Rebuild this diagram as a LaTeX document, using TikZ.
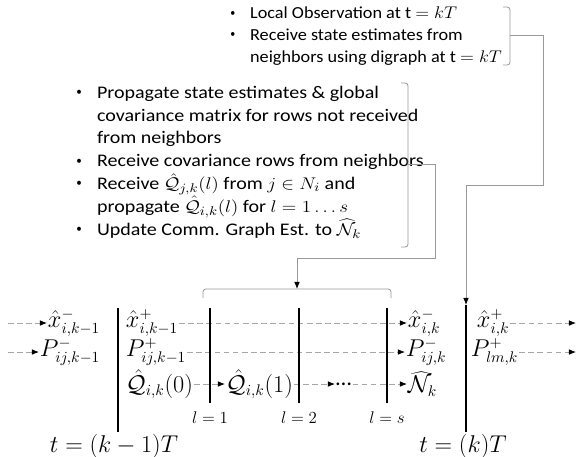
\documentclass[tikz,border=0pt]{standalone}
\usepackage{graphicx}
\usepackage{fontspec}
\setmainfont{Carlito}
\usetikzlibrary{positioning,arrows.meta}
\newlength{\bulletw}
\setlength{\bulletw}{4.6mm}
\newcommand{\bitem}{\makebox[\bulletw][l]{\raisebox{.3ex}{\scalebox{.55}[.65]{\textbullet}}}}
\newcommand{\bgap}{\hspace*{\bulletw}}
% the notes of the reference are set wide
\newcommand{\widenotes}[2][1.13]{\scalebox{#1}[1]{\begin{tabular}{@{}l@{}}#2\end{tabular}}}
\tikzset{%
  sample bar/.style={
    draw=black,
    line width=1.8pt
  },
  flow/.style={
    draw=gray!70,
    line width=0.6pt,
    dash pattern=on 4pt off 2.5pt
  },
  bracket/.style={
    draw=gray!80,
    line width=0.6pt,
    rounded corners=2pt
  },
  link/.style={
    draw=gray!80,
    line width=0.6pt
  },
}

\begin{document}
\begin{tikzpicture}[x=0.025cm,y=-0.025cm,>={Latex[black,length=5pt,width=4pt]},font=\fontsize{16}{18}\selectfont]
        \tikzstyle{est}=[inner sep=0.5pt,anchor=west]
        \tikzstyle{notes}=[inner sep=0pt,anchor=north west,font=\fontsize{12}{15.5}\selectfont]
        \tikzstyle{lvl}=[font=\fontsize{13}{15}\selectfont]

        \useasboundingbox (0,0) rectangle (578,456);

        % what happens between the two sample times
        \node[notes] (obs) at (230,3) {\widenotes[1.08]{\bitem Local Observation at t $= kT$\\
          \bitem Receive state estimates from\\
          \bgap neighbors using digraph at t $= kT$}};
        \node[notes,font=\fontsize{12.6}{16.2}\selectfont] (prop) at (76,82) {\widenotes{\bitem Propagate state estimates \& global\\
          \bgap covariance matrix for rows not received\\
          \bgap from neighbors\\
          \bitem Receive covariance rows from neighbors\\
          \bitem Receive $\hat{\mathcal{Q}}_{j,k}(l)$ from $j \in N_i$ and\\
          \bgap propagate $\hat{\mathcal{Q}}_{i,k}(l)$ for $l = 1 \ldots s$\\
          \bitem Update Comm. Graph Est. to $\widehat{\mathcal{N}}_k$}};

        \coordinate (obs br) at (510,35);
        \coordinate (prop br) at (408,164);
        \coordinate (win top) at (297,289);
        \coordinate (tk top) at (466,305);

        \draw[bracket] (503,7) -| (510,65) -- (503,65);
        \draw[bracket] (401,83) -| (408,247) -- (401,247);
        \draw[bracket] (203,298) |- (win top) -| (391,298);

        \draw[link,->] (obs br) -| (543,185) -| (tk top);
        \draw[link,->] (prop br) -| (435,258) -| (win top);

        % estimates
        \node[est] (xm1) at (47,323) {$\hat{x}^{-}_{i,k-1}$};
        \node[est] (Pm1) at (39,352) {$P^{-}_{ij,k-1}$};
        \node[est] (xp1) at (125,323) {$\hat{x}^{+}_{i,k-1}$};
        \node[est] (Pp1) at (125,352) {$P^{+}_{ij,k-1}$};
        \node[est] (Q0) at (125,384) {$\hat{\mathcal{Q}}_{i,k}(0)$};
        \node[est] (Q1) at (225,384) {$\hat{\mathcal{Q}}_{i,k}(1)$};
        \node[est] (dots) at (335,384) {\ldots};
        \node[est] (Nk) at (407,384) {$\widehat{\mathcal{N}}_k$};
        \node[est] (xmk) at (407,323) {$\hat{x}^{-}_{i,k}$};
        \node[est] (Pmk) at (405,352) {$P^{-}_{ij,k}$};
        \node[est] (xpk) at (476,323) {$\hat{x}^{+}_{i,k}$};
        \node[est] (Ppk) at (470,352) {$P^{+}_{lm,k}$};

        \coordinate (in x) at (8,323);
        \coordinate (in P) at (8,352);
        \coordinate (out x) at (576,323);
        \coordinate (out P) at (576,352);

        \draw[flow,->] (in x) -- (xm1);
        \draw[flow,->] (in P) -- (Pm1);
        \draw[flow,->] (xp1) -- (xmk);
        \draw[flow,->] (Pp1) -- (Pmk);
        \draw[flow,->] (Q0) -- (Q1);
        \draw[flow,->] (Q1) -- (dots);
        \draw[flow,->] (dots) -- (Nk);
        \draw[flow,->] (xpk) -- (out x);
        \draw[flow,->] (Ppk) -- (out P);

        % sample times and consensus steps
        \draw[sample bar] (118,308) -- (118,432);
        \draw[sample bar] (tk top) -- (466,432);
        \foreach \x/\n in {210/1, 299/2, 387/s}
          \draw[sample bar] (\x,308) -- (\x,403) node[lvl,below=2pt] (lvl\n) {$l = \n$};

        \node (tprev) at (114,446) {$t = (k-1)T$};
        \node (tnow) at (463,446) {$t = (k)T$};
\end{tikzpicture}
\end{document}
